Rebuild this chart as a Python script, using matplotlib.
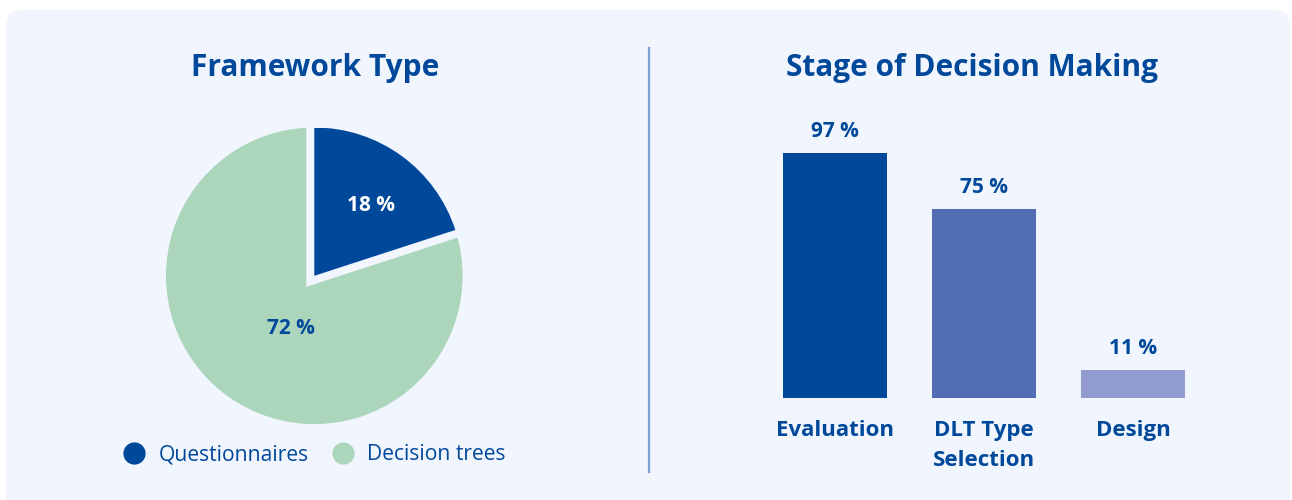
import matplotlib
matplotlib.use("Agg")
import matplotlib.pyplot as plt
from matplotlib.patches import FancyBboxPatch, Wedge
from matplotlib.lines import Line2D
import numpy as np

# ---- data ----
pie_labels = ["Questionnaires", "Decision trees"]
pie_values = [18, 72]
bar_categories = ["Evaluation", "DLT Type\nSelection", "Design"]
bar_values = [97, 75, 11]
title_left = "Framework Type"
title_right = "Stage of Decision Making"

# ---- style ----
W, H = 1292, 500
BG = "#f1f5fe"
DARK = "#00489a"
GREEN = "#acd6bb"
BAR_COLORS = ["#00489a", "#536db5", "#919bcf"]
LINE = "#7ba2d3"
FONT = "Open Sans"

plt.rcParams["font.family"] = [FONT, "DejaVu Sans"]

fig = plt.figure(figsize=(W / 100, H / 100), dpi=100)
fig.patch.set_facecolor("white")

def fx(px):
    return px / W

def fy(py):
    return 1 - py / H

# panel
panel = FancyBboxPatch((fx(6), fy(520)), fx(1284), (520 - 10) / H,
                       boxstyle="round,pad=0,rounding_size=0.012",
                       transform=fig.transFigure, facecolor=BG,
                       edgecolor="none", zorder=-5, mutation_aspect=W / H)
fig.patches.append(panel)

# divider
fig.add_artist(Line2D([fx(649), fx(649)], [fy(48), fy(472)],
                      transform=fig.transFigure, color=LINE, lw=1.6))

# titles
fig.text(fx(315), fy(68), title_left, ha="center", va="center",
         fontsize=21.5, fontweight="bold", color=DARK)
fig.text(fx(972), fy(68), title_right, ha="center", va="center",
         fontsize=21.5, fontweight="bold", color=DARK)

# ---- pie ----
cx, cy, r = 314.3, 275.8, 148.3
axp = fig.add_axes([fx(cx - r), fy(cy + r), 2 * r / W, 2 * r / H])
axp.set_facecolor("none")
wedges, _ = axp.pie(pie_values, colors=[DARK, GREEN], startangle=90,
                    counterclock=False, radius=1)
axp.set_xlim(-1, 1)
axp.set_ylim(-1, 1)
# carve gap around the first wedge
blue = wedges[0]
blue.set_edgecolor(BG)
blue.set_linewidth(11.5)
blue.set_joinstyle("miter")
blue.set_zorder(3)
axp.add_patch(Wedge(blue.center, blue.r, blue.theta1, blue.theta2,
                    facecolor=DARK, edgecolor="none", zorder=4))

label_pos = [(52, 0.62), (245, 0.37)]
label_cols = ["white", DARK]
for v, (ang, dist), col in zip(pie_values, label_pos, label_cols):
    a = np.deg2rad(ang)
    axp.text(dist * np.cos(a), dist * np.sin(a), f"{v} %", ha="center",
             va="center_baseline", fontsize=15, fontweight="bold", color=col,
             zorder=6)

handles = [Line2D([], [], marker="o", ls="none", markersize=16,
                  markerfacecolor=c, markeredgecolor="none")
           for c in [DARK, GREEN]]
fig.legend(handles, pie_labels, loc="center", bbox_to_anchor=(fx(313.5), fy(455)),
           ncol=2, frameon=False, fontsize=15.2, labelcolor=DARK,
           handletextpad=0.55, columnspacing=1.0, handlelength=1.2,
           borderpad=0)

# ---- bars ----
step = 149
left = 835 - 0.5 * step
base = 398
axb = fig.add_axes([fx(left), fy(base), 3 * step / W, (245 * 100 / 97) / H])
axb.set_facecolor("none")
xs = np.arange(len(bar_values))
axb.bar(xs, bar_values, width=104 / step, color=BAR_COLORS)
axb.set_xlim(-0.5, len(bar_values) - 0.5)
axb.set_ylim(0, 100)
axb.axis("off")
for x, v in zip(xs, bar_values):
    axb.annotate(f"{v} %", (x, v), xytext=(0, 15.5), textcoords="offset points",
                 ha="center", va="center", fontsize=15, fontweight="bold",
                 color=DARK)
for x, lab in zip(xs, bar_categories):
    axb.annotate(lab, (x, 0), xytext=(0, -15.5), textcoords="offset points",
                 ha="center", va="top", fontsize=16, fontweight="bold",
                 color=DARK, linespacing=1.58)

fig.savefig("out.png", dpi=100, facecolor="white")
